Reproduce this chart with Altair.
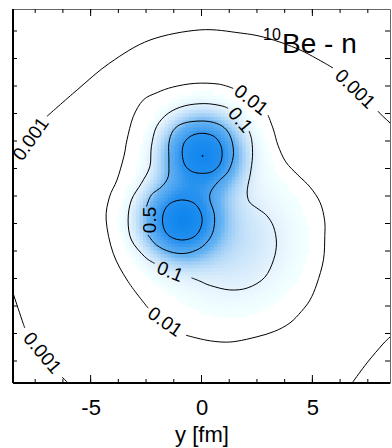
import altair as alt
import numpy as np
import pandas as pd

FONT = "Liberation Sans"

# ---------------- axes ----------------
x_domain = [-8.5, 8.5]
y_domain = [-8.5, 8.5]
x_label_values = [-5, 0, 5]
tick_values = [-7.5, -6.25, -5, -3.75, -2.5, -1.25, 0, 1.25, 2.5, 3.75, 5, 6.25, 7.5]
major_ticks = [-5, 0, 5]

# ---------------- density (blob parameters) ----------------
blob_x = [0.05, -0.87, 1.3]
blob_y = [1.88, -1.09, -2.0]
blob_amp = [1.48, 1.48, 0.2]
blob_sigma = [1.02, 1.02, 1.9]

# ---------------- contour lines (fm), split where labels sit ----------------
c0001_segments = [
    [(8.7, 3.0), (8.5, 3.32), (8.2, 3.6), (7.95, 3.86)],
    [(5.93, 5.82), (4.44, 6.64), (2.95, 7.18), (1.74, 7.41), (-0.07, 7.55),
     (-2.32, 7.09), (-4.13, 6.05), (-5.61, 4.82), (-6.97, 3.62)],
    [(-8.7, -3.8), (-8.5, -4.41), (-8.05, -5.77), (-7.96, -6.0)],
    [(-6.29, -8.23), (-6.02, -8.5), (-5.85, -8.75)],
    [(6.6, -8.75), (6.79, -8.5), (7.46, -7.59), (8.18, -6.73), (8.5, -6.41), (8.7, -6.2)],
]
c001_segments = [
    [(3.0, 3.68), (3.25, 3.0), (3.45, 2.3), (3.8, 1.55), (4.35, 0.95), (4.9, 0.4),
     (5.35, -0.3), (5.55, -1.1), (5.56, -1.8), (5.5, -2.9), (5.2, -4.0), (4.89, -4.73),
     (4.5, -5.25), (3.99, -5.77), (3.3, -6.15), (2.5, -6.4), (1.6, -6.6), (0.97, -6.64),
     (0.2, -6.55), (-0.7, -6.33)],
    [(-2.4, -5.1), (-3.31, -3.89), (-3.98, -2.61), (-4.3, -1.09), (-4.15, -0.05),
     (-3.81, 0.73), (-3.5, 1.8), (-3.36, 2.55), (-3.08, 3.6), (-2.63, 4.36), (-2.0, 4.7),
     (-1.3, 4.95), (-0.3, 5.12), (0.75, 5.09), (1.43, 4.89)],
]
c01_segments = [
    [(2.15, 2.95), (2.27, 2.5), (2.3, 1.8), (2.2, 1.0), (2.08, 0.4), (2.07, 0.0),
     (2.2, -0.32), (2.6, -0.62), (2.95, -0.9), (3.25, -1.4), (3.38, -2.14), (3.25, -2.9),
     (2.85, -3.7), (2.1, -4.17), (1.28, -4.27), (0.4, -4.07), (-0.07, -3.87), (-0.45, -3.72)],
    [(-2.11, -3.06), (-2.56, -2.76), (-3.16, -2.0), (-3.31, -1.09), (-3.16, -0.18),
     (-2.71, 0.58), (-2.33, 1.33), (-2.26, 2.24), (-2.03, 3.15), (-1.5, 3.76),
     (-0.75, 4.1), (0.15, 4.2), (0.9, 4.1), (1.2, 3.98)],
]
c05_segments = [
    [(-2.41, -1.77), (-2.03, -2.23), (-1.43, -2.53), (-0.75, -2.61), (-0.08, -2.38),
     (0.38, -1.92), (0.57, -1.39), (0.57, -0.79), (0.38, -0.18), (0.42, 0.2), (0.75, 0.65),
     (1.2, 1.11), (1.43, 1.79), (1.38, 2.47), (1.13, 3.0), (0.68, 3.3), (0.0, 3.41),
     (-0.83, 3.3), (-1.28, 2.97), (-1.47, 2.39), (-1.47, 1.64), (-1.5, 0.88), (-1.8, 0.42),
     (-2.26, 0.05), (-2.48, -0.48)],
]
c1_loops = [
    [(0.03, 2.85), (0.53, 2.73), (0.83, 2.39), (0.93, 1.94), (0.83, 1.45), (0.48, 1.11),
     (0.03, 1.03), (-0.42, 1.11), (-0.75, 1.41), (-0.87, 1.94), (-0.78, 2.42), (-0.45, 2.74)],
    [(-0.87, -0.18), (-0.38, -0.3), (-0.08, -0.64), (0.03, -1.09), (-0.08, -1.55),
     (-0.38, -1.88), (-0.87, -2.0), (-1.35, -1.88), (-1.65, -1.58), (-1.76, -1.09),
     (-1.65, -0.61), (-1.35, -0.3)],
]
peak_x = [0.05]
peak_y = [1.82]

# ---------------- contour labels ----------------
label_text = ["0.001", "0.001", "0.01", "0.1", "0.5", "0.1", "0.01", "0.001"]
label_x = [-7.69, 6.92, 2.23, 1.74, -2.32, -1.42, -1.65, -7.19]
label_y = [2.59, 4.86, 4.36, 3.45, -1.09, -3.45, -5.73, -7.14]
label_angle = [305, 44, 38, 50, 270, 22, 35, 50]

# ---------------- build tables ----------------
step = 0.16
gx = np.arange(-4.8, 5.8, step)
gy = np.arange(-6.4, 5.8, step)
GX, GY = np.meshgrid(gx, gy)
D = np.zeros_like(GX)
for bx, by, a, s in zip(blob_x, blob_y, blob_amp, blob_sigma):
    D += a * np.exp(-((GX - bx) ** 2 + (GY - by) ** 2) / (2 * s * s))
m = D > 0.03
heat_df = pd.DataFrame({
    "x0": GX[m] - step / 2, "x1": GX[m] + step / 2 + 0.05,
    "y0": GY[m] - step / 2, "y1": GY[m] + step / 2 + 0.05,
    "d": D[m],
})

def seg_rows(segs, prefix):
    rows = []
    for k, seg in enumerate(segs):
        for i, (x, y) in enumerate(seg):
            rows.append({"x": x, "y": y, "seg": f"{prefix}{k}", "i": i})
    return rows

open_df = pd.DataFrame(seg_rows(c0001_segments, "a") + seg_rows(c001_segments, "b")
                       + seg_rows(c01_segments, "c") + seg_rows(c05_segments, "d"))
loop_df = pd.DataFrame(seg_rows(c1_loops, "e"))
lab_df = pd.DataFrame({"x": label_x, "y": label_y, "t": label_text, "a": label_angle})
tick_df = pd.DataFrame({"v": tick_values})
major_df = pd.DataFrame({"v": major_ticks})
peak_df = pd.DataFrame({"x": peak_x, "y": peak_y})
one = pd.DataFrame({"k": [0]})

W, H = 377, 374
xs = alt.Scale(domain=x_domain, nice=False, zero=False)
ys = alt.Scale(domain=y_domain, nice=False, zero=False)
x_axis = alt.Axis(
    values=x_label_values, title="y [fm]", ticks=False, tickSize=0, domain=False,
    grid=False, labelFontSize=22, titleFontSize=22, labelPadding=14, titlePadding=6,
    labelColor="black", titleColor="black", titleFontWeight="normal",
    labelFont=FONT, titleFont=FONT, labelExpr="'' + datum.value")

def X(field):
    return alt.X(field, scale=xs, axis=x_axis, title="y [fm]")

def Y(field):
    return alt.Y(field, scale=ys, axis=None)

heat = alt.Chart(heat_df).mark_rect().encode(
    x=X("x0:Q"), x2="x1:Q", y=Y("y0:Q"), y2="y1:Q",
    color=alt.Color("d:Q", legend=None, scale=alt.Scale(
        domain=[0, 0.035, 0.1, 0.5, 1.0, 1.6],
        range=["#ffffff", "#ffffff", "#e6f3fd", "#64b2f2", "#2792ef", "#0f86ee"])),
)

lines = alt.Chart(open_df).mark_line(color="black", strokeWidth=1, interpolate="cardinal", clip=True).encode(
    x=X("x:Q"), y=Y("y:Q"), detail="seg:N", order="i:Q")
loops = alt.Chart(loop_df).mark_line(color="black", strokeWidth=1, interpolate="cardinal-closed", clip=True).encode(
    x=X("x:Q"), y=Y("y:Q"), detail="seg:N", order="i:Q")
peak = alt.Chart(peak_df).mark_circle(color="black", size=3, opacity=1).encode(
    x=X("x:Q"), y=Y("y:Q"))

labels = alt.Chart(lab_df).mark_text(font=FONT, fontSize=19, align="center", baseline="middle", color="black").encode(
    x=X("x:Q"), y=Y("y:Q"), text="t:N", angle=alt.Angle("a:Q", scale=None))

def xticks(df, y1, y2):
    return alt.Chart(df).mark_rule(color="black", strokeWidth=1).encode(
        x=X("v:Q"), y=alt.value(y1), y2=alt.value(y2))

def yticks(df, x1, x2):
    return alt.Chart(df).mark_rule(color="black", strokeWidth=1).encode(
        y=Y("v:Q"), x=alt.value(x1), x2=alt.value(x2))

ticks = [
    xticks(tick_df, H, H - 4), xticks(major_df, H, H - 8),
    xticks(tick_df, 0, 4), xticks(major_df, 0, 7),
    yticks(tick_df, 0, 4), yticks(tick_df, W, W - 5),
]

left_axis = alt.Chart(one).mark_rule(color="black", strokeWidth=2).encode(
    x=alt.value(0), y=alt.value(0), y2=alt.value(H))
bottom_axis = alt.Chart(one).mark_rule(color="black", strokeWidth=2).encode(
    x=alt.value(0), x2=alt.value(W), y=alt.value(H))

sup = alt.Chart(one).mark_text(font=FONT, fontSize=16, align="left", baseline="alphabetic", color="black").encode(
    x=alt.value(250), y=alt.value(31), text=alt.value("10"))
name = alt.Chart(one).mark_text(font=FONT, fontSize=28, align="left", baseline="alphabetic", color="black").encode(
    x=alt.value(269), y=alt.value(44), text=alt.value("Be - n"))

chart = alt.layer(heat, lines, loops, peak, labels, *ticks, left_axis, bottom_axis, sup, name).properties(
    width=W, height=H,
    autosize=alt.AutoSizeParams(type="none"),
    padding={"left": 13, "top": 9, "right": 2, "bottom": 65},
    background="white",
).configure_view(stroke="#666666", strokeWidth=1)

chart.save("out.html", embed_options={"renderer": "svg", "actions": False})
